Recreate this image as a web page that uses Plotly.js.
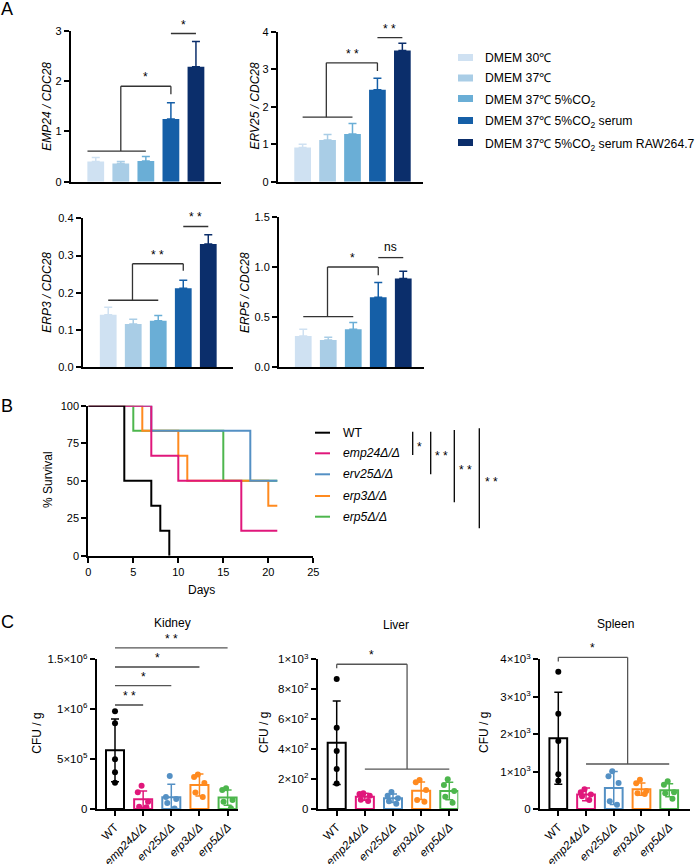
<!DOCTYPE html>
<html><head><meta charset="utf-8">
<script src="https://cdn.plot.ly/plotly-3.0.1.min.js"></script>
<style>html,body{margin:0;padding:0;background:#fff}#chart{width:696px;height:864px}</style>
</head><body><div id="chart"></div>
<script>
// ---------- Panel A data (mean, upper error) ----------
const conditions = ['DMEM 30℃', 'DMEM 37℃', 'DMEM 37℃ 5%CO<sub>2</sub>', 'DMEM 37℃ 5%CO<sub>2</sub> serum', 'DMEM 37℃ 5%CO<sub>2</sub> serum RAW264.7'];
const emp24Mean = [0.40, 0.36, 0.41, 1.25, 2.29];
const emp24Err  = [0.08, 0.04, 0.09, 0.32, 0.50];
const erv25Mean = [0.91, 1.11, 1.27, 2.45, 3.50];
const erv25Err  = [0.09, 0.15, 0.28, 0.31, 0.19];
const erp3Mean  = [0.141, 0.116, 0.125, 0.212, 0.331];
const erp3Err   = [0.020, 0.013, 0.014, 0.022, 0.025];
const erp5Mean  = [0.313, 0.273, 0.380, 0.700, 0.887];
const erp5Err   = [0.067, 0.027, 0.067, 0.147, 0.073];

// ---------- Panel B data (Kaplan-Meier steps) ----------
const strains = ['WT', 'emp24Δ/Δ', 'erv25Δ/Δ', 'erp3Δ/Δ', 'erp5Δ/Δ'];
const wtDays = [0, 4, 7, 8, 9];            const wtSurv = [100, 50, 33.3, 16.7, 0];
const emp24Days = [0, 7, 10, 17, 21];      const emp24Surv = [100, 66.7, 50, 16.7, 16.7];
const erv25Days = [0, 7, 18, 21];          const erv25Surv = [100, 83.3, 50, 50];
const erp3Days = [0, 6, 10, 11, 20, 21];   const erp3Surv = [100, 83.3, 66.7, 50, 33.3, 33.3];
const erp5Days = [0, 5, 15, 21];           const erp5Surv = [100, 83.3, 50, 50];

// ---------- Panel C data (CFU / g) ----------
const organs = ['Kidney', 'Liver', 'Spleen'];
const kidneyMean = [5.88e5, 0.97e5, 1.17e5, 2.41e5, 1.14e5];
const kidneySD   = [3.14e5, 0.83e5, 1.30e5, 1.10e5, 0.76e5];
const kidneyPts  = [[9.79e5, 8.59e5, 4.98e5, 3.68e5, 2.64e5],
                    [2.34e5, 1.67e5, 0.73e5, 0.23e5, 0.17e5],
                    [3.30e5, 1.20e5, 1.00e5, 0.60e5, 0.05e5],
                    [3.45e5, 3.20e5, 2.60e5, 1.65e5, 1.20e5],
                    [2.07e5, 1.90e5, 0.90e5, 0.73e5, 0.07e5]];
const liverMean = [443, 82, 72, 122, 120];
const liverSD   = [279, 24, 28, 58, 58];
const liverPts  = [[869, 543, 388, 267, 171],
                   [106, 100, 88, 62, 54],
                   [113, 88, 72, 52, 35],
                   [194, 178, 127, 60, 49],
                   [198, 160, 120, 82, 42]];
const spleenMean = [1889, 390, 561, 530, 500];
const spleenSD   = [1229, 170, 440, 165, 175];
const spleenPts  = [[3670, 2548, 1817, 926, 757],
                    [530, 450, 390, 340, 240],
                    [1007, 873, 695, 205, 116],
                    [780, 690, 480, 420, 400],
                    [740, 650, 445, 420, 276]];

// ---------- styling / layout helpers ----------
const W = 696, H = 864;
const PX = v => v / W, PY = v => 1 - v / H;
const FONT = 'Liberation Sans, Arial, Helvetica, sans-serif';
const aColors = ['#cfe1f2', '#a9cde6', '#6aaed6', '#155fa7', '#0b2e6b'];
const sColors = ['#000000', '#e0177b', '#5490c4', '#ff8a1f', '#4db64d'];
const italic = s => s === 'WT' ? s : '<i>' + s + '</i>';

const axBase = {showline: true, linecolor: '#000', linewidth: 2, ticks: 'outside', ticklen: 5, tickwidth: 2,
  tickcolor: '#000', showgrid: false, zeroline: false, fixedrange: true,
  tickfont: {family: FONT, size: 11, color: '#000'}};
const tickC = {tickfont: {family: FONT, size: 11.5, color: '#000'}};

const traces = [];
const shapes = [];
const annotations = [];

function paperText(x, y, text, opts) {
  annotations.push(Object.assign({xref: 'paper', yref: 'paper', x: PX(x), y: PY(y), text: text,
    xanchor: 'center', yanchor: 'middle', showarrow: false,
    font: {family: FONT, size: 12, color: '#000'}}, opts || {}));
}
function hline(xa, ya, ymax, x0, x1, y, color) {
  shapes.push({type: 'line', xref: xa, yref: ya + ' domain', x0: x0, x1: x1, y0: y / ymax, y1: y / ymax,
    line: {color: color || '#333', width: 1.3}});
}
function vline(xa, ya, ymax, x, y0, y1, color) {
  shapes.push({type: 'line', xref: xa, yref: ya + ' domain', x0: x, x1: x, y0: y0 / ymax, y1: y1 / ymax,
    line: {color: color || '#333', width: 1.3}});
}
function sig(xa, ya, ymax, x, y, text, shift) {
  annotations.push({xref: xa, yref: ya + ' domain', x: x, y: y / ymax, text: text, showarrow: false,
    xanchor: 'center', yanchor: 'bottom', yshift: shift || 0, font: {family: FONT, size: 12, color: '#000'}});
}

// ---------- Panel A bars ----------
const panelA = [
  {mean: emp24Mean, err: emp24Err, xa: 'x', ya: 'y'},
  {mean: erv25Mean, err: erv25Err, xa: 'x2', ya: 'y2'},
  {mean: erp3Mean, err: erp3Err, xa: 'x3', ya: 'y3'},
  {mean: erp5Mean, err: erp5Err, xa: 'x4', ya: 'y4'}
];
panelA.forEach(p => {
  conditions.forEach((c, i) => {
    traces.push({type: 'bar', x: [c], y: [p.mean[i]], width: 0.67, xaxis: p.xa, yaxis: p.ya,
      marker: {color: aColors[i], line: {width: 0}}, showlegend: false, hoverinfo: 'skip',
      error_y: {type: 'data', symmetric: false, array: [p.err[i]], arrayminus: [0], color: aColors[i], thickness: 1.5, width: 4}});
  });
});

// ---------- Panel B lines (drawn bottom to top) ----------
[[erp5Days, erp5Surv, 4], [erp3Days, erp3Surv, 3], [erv25Days, erv25Surv, 2], [emp24Days, emp24Surv, 1], [wtDays, wtSurv, 0]]
  .forEach(([d, s, k]) => {
    traces.push({type: 'scatter', mode: 'lines', x: d, y: s, xaxis: 'x5', yaxis: 'y5', name: strains[k],
      line: {shape: 'hv', width: 2, color: sColors[k]}, showlegend: false, hoverinfo: 'skip'});
  });

// ---------- Panel C bars + points ----------
const panelC = [
  {mean: kidneyMean, sd: kidneySD, pts: kidneyPts, xa: 'x6', ya: 'y6'},
  {mean: liverMean, sd: liverSD, pts: liverPts, xa: 'x7', ya: 'y7'},
  {mean: spleenMean, sd: spleenSD, pts: spleenPts, xa: 'x8', ya: 'y8'}
];
panelC.forEach(p => {
  strains.forEach((s, i) => {
    traces.push({type: 'bar', x: [s], y: [p.mean[i]], width: 0.64, xaxis: p.xa, yaxis: p.ya,
      marker: {color: 'rgba(255,255,255,0)', line: {color: sColors[i], width: 2}}, showlegend: false, hoverinfo: 'skip',
      error_y: {type: 'data', symmetric: true, array: [p.sd[i]], color: sColors[i], thickness: 1.5, width: 4}});
  });
  strains.forEach((s, i) => {
    traces.push({type: 'box', x: p.pts[i].map(() => s), y: p.pts[i], xaxis: p.xa, yaxis: p.ya,
      boxpoints: 'all', jitter: i === 0 ? 0 : 0.9, pointpos: 0, width: 0.5, whiskerwidth: 0,
      fillcolor: 'rgba(0,0,0,0)', line: {width: 0, color: sColors[i]},
      marker: {color: sColors[i], size: 6, line: {width: 0}}, showlegend: false, hoverinfo: 'skip'});
  });
});

// ---------- axes ----------
function xA(a, b, range, anchor, extra) {
  return Object.assign({}, axBase, {domain: [PX(a), PX(b)], range: range, anchor: anchor}, extra || {});
}
function yA(top, bottom, range, anchor, extra) {
  return Object.assign({}, axBase, {domain: [PY(bottom), PY(top)], range: range, anchor: anchor}, extra || {});
}
const catA = {type: 'category', categoryorder: 'array', categoryarray: conditions, ticks: '', showticklabels: false};
const catC = Object.assign({type: 'category', categoryorder: 'array', categoryarray: strains, tickmode: 'array',
  tickvals: strains, ticktext: strains.map(italic), tickangle: -45}, tickC);

const layout = {
  width: W, height: H, margin: {l: 0, r: 0, t: 0, b: 0}, paper_bgcolor: '#fff', plot_bgcolor: 'rgba(0,0,0,0)',
  barmode: 'overlay', boxmode: 'overlay', showlegend: false, font: {family: FONT, color: '#000'},
  xaxis:  xA(70.7, 221, [-1, 5], 'y', catA),
  yaxis:  yA(31, 181.7, [0, 3], 'x', {dtick: 1, tick0: 0}),
  xaxis2: xA(277.7, 423.3, [-1, 4.84], 'y2', catA),
  yaxis2: yA(31.7, 181.7, [0, 4], 'x2', {dtick: 1, tick0: 0}),
  xaxis3: xA(82.7, 233.3, [-1.02, 5], 'y3', catA),
  yaxis3: yA(218.3, 367.3, [0, 0.4], 'x3', {dtick: 0.1, tick0: 0, tickformat: '.1f'}),
  xaxis4: xA(279, 424, [-0.97, 4.83], 'y4', catA),
  yaxis4: yA(217.3, 367.3, [0, 1.5], 'x4', {dtick: 0.5, tick0: 0, tickformat: '.1f'}),
  xaxis5: xA(88.3, 313.3, [0, 25], 'y5', {dtick: 5, tick0: 0}),
  yaxis5: yA(405.7, 555.7, [0, 100], 'x5', {dtick: 25, tick0: 0}),
  xaxis6: xA(96.7, 238.3, [-0.65, 4.38], 'y6', catC),
  yaxis6: yA(659.3, 809, [0, 1.5e6], 'x6', Object.assign({tickmode: 'array', tickvals: [0, 5e5, 1e6, 1.5e6],
    ticktext: ['0', '5×10<sup>5</sup>', '1×10<sup>6</sup>', '1.5×10<sup>6</sup>']}, tickC)),
  xaxis7: xA(317.7, 458.3, [-0.675, 4.32], 'y7', catC),
  yaxis7: yA(659.3, 809, [0, 1000], 'x7', Object.assign({tickmode: 'array', tickvals: [0, 200, 400, 600, 800, 1000],
    ticktext: ['0', '2×10<sup>2</sup>', '4×10<sup>2</sup>', '6×10<sup>2</sup>', '8×10<sup>2</sup>', '1×10<sup>3</sup>']}, tickC)),
  xaxis8: xA(540, 690, [-0.66, 4.75], 'y8', catC),
  yaxis8: yA(659.3, 809, [0, 4000], 'x8', Object.assign({tickmode: 'array', tickvals: [0, 1000, 2000, 3000, 4000],
    ticktext: ['0', '1×10<sup>3</sup>', '2×10<sup>3</sup>', '3×10<sup>3</sup>', '4×10<sup>3</sup>']}, tickC))
};

// ---------- Panel A significance ----------
hline('x', 'y', 3, -0.33, 2, 0.61); vline('x', 'y', 3, 1, 0.61, 1.90); hline('x', 'y', 3, 1, 3, 1.90);
vline('x', 'y', 3, 3, 1.90, 1.74); sig('x', 'y', 3, 2, 1.90, '*');
hline('x', 'y', 3, 3, 4, 2.95); sig('x', 'y', 3, 3.5, 2.95, '*');

hline('x2', 'y2', 4, 0, 2, 1.72); vline('x2', 'y2', 4, 0.95, 1.72, 3.17); hline('x2', 'y2', 4, 0.95, 3, 3.17);
vline('x2', 'y2', 4, 3, 3.17, 2.95); sig('x2', 'y2', 4, 2, 3.17, '* *');
hline('x2', 'y2', 4, 3, 4, 3.84); sig('x2', 'y2', 4, 3.5, 3.84, '* *');

hline('x3', 'y3', 0.4, 0, 2, 0.180); vline('x3', 'y3', 0.4, 0.97, 0.180, 0.278); hline('x3', 'y3', 0.4, 0.97, 3, 0.278);
vline('x3', 'y3', 0.4, 3, 0.278, 0.259); sig('x3', 'y3', 0.4, 1.96, 0.278, '* *');
hline('x3', 'y3', 0.4, 3, 4, 0.378); sig('x3', 'y3', 0.4, 3.5, 0.378, '* *');

hline('x4', 'y4', 1.5, 0, 2, 0.507); vline('x4', 'y4', 1.5, 0.97, 0.507, 1.003); hline('x4', 'y4', 1.5, 0.97, 3, 1.003);
vline('x4', 'y4', 1.5, 3, 1.003, 0.92); sig('x4', 'y4', 1.5, 1.98, 1.003, '*');
hline('x4', 'y4', 1.5, 3, 4, 1.097); sig('x4', 'y4', 1.5, 3.5, 1.097, 'ns', 2);

// ---------- Panel C significance ----------
hline('x6', 'y6', 1.5e6, 0, 1, 10.42e5, '#444'); sig('x6', 'y6', 1.5e6, 0.5, 10.42e5, '* *');
hline('x6', 'y6', 1.5e6, 0, 2, 12.36e5, '#555'); sig('x6', 'y6', 1.5e6, 1, 12.36e5, '*');
hline('x6', 'y6', 1.5e6, 0, 3, 14.23e5, '#444'); sig('x6', 'y6', 1.5e6, 1.5, 14.23e5, '*');
hline('x6', 'y6', 1.5e6, 0, 4, 16.14e5, '#555'); sig('x6', 'y6', 1.5e6, 2, 16.14e5, '* *');

vline('x7', 'y7', 1000, 0, 940, 967, '#555'); hline('x7', 'y7', 1000, 0, 2.5, 967, '#555');
vline('x7', 'y7', 1000, 2.5, 967, 267, '#555'); hline('x7', 'y7', 1000, 1, 4, 267, '#555');
sig('x7', 'y7', 1000, 1.25, 967, '*');

vline('x8', 'y8', 4000, 0, 3938, 4053, '#555'); hline('x8', 'y8', 4000, 0, 2.5, 4053, '#555');
vline('x8', 'y8', 4000, 2.5, 4053, 1203, '#555'); hline('x8', 'y8', 4000, 1, 4, 1203, '#555');
sig('x8', 'y8', 4000, 1.25, 4053, '*');

// ---------- panel letters, titles ----------
paperText(7, 9, 'A', {font: {family: FONT, size: 18, color: '#000'}});
paperText(7, 406, 'B', {font: {family: FONT, size: 18, color: '#000'}});
paperText(7, 622, 'C', {font: {family: FONT, size: 18, color: '#000'}});

paperText(46.7, 106, '<i>EMP24 / CDC28</i>', {textangle: -90});
paperText(254.5, 106, '<i>ERV25 / CDC28</i>', {textangle: -90});
paperText(46.7, 292, '<i>ERP3 / CDC28</i>', {textangle: -90});
paperText(245, 292, '<i>ERP5 / CDC28</i>', {textangle: -90});
paperText(48, 480, '% Survival', {textangle: -90});
paperText(201, 590, 'Days');
paperText(36.7, 733, 'CFU / g', {textangle: -90});
paperText(264, 733, 'CFU / g', {textangle: -90});
paperText(484, 733, 'CFU / g', {textangle: -90});
paperText(172, 623, organs[0]);
paperText(395.7, 625, organs[1]);
paperText(615, 624, organs[2]);

// ---------- legend A (manual) ----------
const legAY = [57.5, 78, 98.5, 120.5, 142.5];
conditions.forEach((c, i) => {
  shapes.push({type: 'rect', xref: 'paper', yref: 'paper', x0: PX(458), x1: PX(473), y0: PY(legAY[i] + 3.5), y1: PY(legAY[i] - 3.5),
    fillcolor: aColors[i], line: {width: 0}});
  paperText(483, legAY[i], c, {xanchor: 'left', yshift: c.indexOf('<sub>') >= 0 ? -2 : 0,
    font: {family: FONT, size: 12.2, color: '#000'}});
});

// ---------- legend B (manual) ----------
const legBY = [432.7, 453.3, 474.3, 496, 516.7];
strains.forEach((s, i) => {
  shapes.push({type: 'line', xref: 'paper', yref: 'paper', x0: PX(315), x1: PX(330), y0: PY(legBY[i]), y1: PY(legBY[i]),
    line: {color: sColors[i], width: 2}});
  paperText(340.5, legBY[i], italic(s), {xanchor: 'left', font: {family: FONT, size: 12.2, color: '#000'}});
});
// log-rank comparison bars
[[412.7, 431.7, 455, 419.5, 444, '*'], [430.7, 431.7, 474.3, 441.7, 453.3, '* *'],
 [454.3, 430, 502.3, 465.7, 467.3, '* *'], [479.3, 428.3, 528.3, 491.7, 479.3, '* *']].forEach(([x, y0, y1, tx, ty, t]) => {
  shapes.push({type: 'line', xref: 'paper', yref: 'paper', x0: PX(x), x1: PX(x), y0: PY(y0), y1: PY(y1), line: {color: '#000', width: 1.3}});
  paperText(tx, ty + 3, t, {font: {family: FONT, size: 12, color: '#000'}});
});

layout.shapes = shapes;
layout.annotations = annotations;

Plotly.newPlot('chart', traces, layout, {staticPlot: true, displayModeBar: false});
</script>
</body></html>
